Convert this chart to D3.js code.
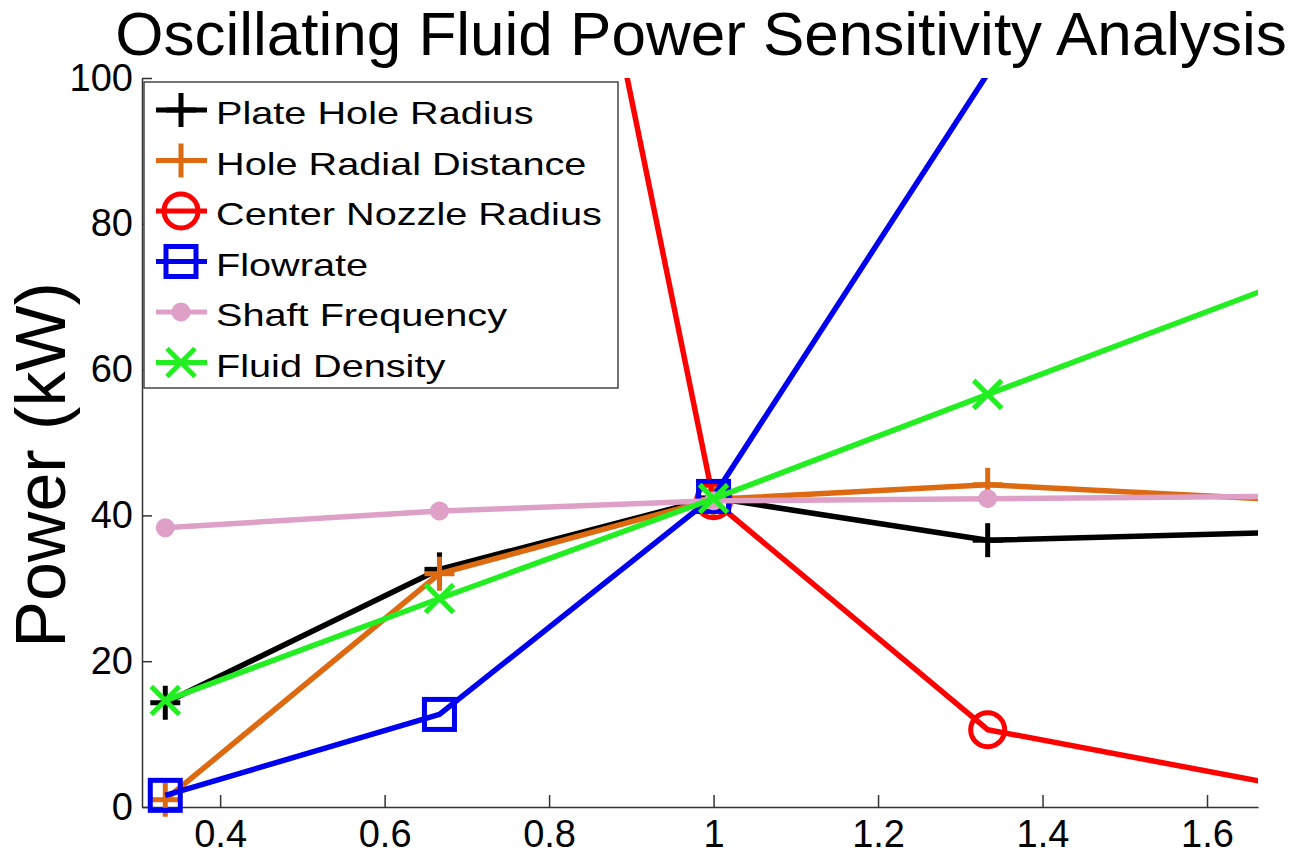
<!DOCTYPE html>
<html>
<head>
<meta charset="utf-8">
<script src="https://cdn.jsdelivr.net/npm/d3@7"></script>
<style>
  body { margin: 0; background: #fff; }
  svg { display: block; font-family: "Liberation Sans", Arial, sans-serif; }
</style>
</head>
<body>
<div id="chart"></div>
<script>
// data
var xValues = [0.3333, 0.6667, 1, 1.3333, 1.6667];
var plateHoleRadius = [14.3, 32.6, 42.4, 36.6, 37.6];
var holeRadialDistance = [1.0, 32.0, 42.2, 44.2, 42.3];
var centerNozzleRadius = [580, 226, 42.0, 10.6, 3.5];
var flowrate = [1.6, 12.7, 42.6, 100.6, 170];
var shaftFrequency = [38.3, 40.6, 42.0, 42.3, 42.6];
var fluidDensity = [14.6, 28.6, 42.3, 56.6, 70.8];
var seriesNames = ["Plate Hole Radius", "Hole Radial Distance", "Center Nozzle Radius",
  "Flowrate", "Shaft Frequency", "Fluid Density"];
var xTicks = [0.4, 0.6, 0.8, 1, 1.2, 1.4, 1.6];
var xTickLabels = ["0.4", "0.6", "0.8", "1", "1.2", "1.4", "1.6"];
var yTicks = [0, 20, 40, 60, 80, 100];

(function() {

  var series = [
    {name: seriesNames[0], values: plateHoleRadius, color: "#000000", marker: "plus"},
    {name: seriesNames[1], values: holeRadialDistance, color: "#dd6a10", marker: "plus"},
    {name: seriesNames[2], values: centerNozzleRadius, color: "#ff0000", marker: "circle"},
    {name: seriesNames[3], values: flowrate, color: "#0000f0", marker: "square"},
    {name: seriesNames[4], values: shaftFrequency, color: "#dfa0c8", marker: "dot"},
    {name: seriesNames[5], values: fluidDensity, color: "#22ee22", marker: "cross"}
  ];

  var width = 1306, height = 857;
  var margin = {left: 142, right: 1258, top: 78, bottom: 807};
  var xDomain = [0.305, 1.662], yDomain = [0, 100];

  var svg = d3.select("#chart").append("svg")
      .attr("width", width)
      .attr("height", height);

  var x = d3.scaleLinear().domain(xDomain).range([margin.left, margin.right]);
  var y = d3.scaleLinear().domain(yDomain).range([margin.bottom, margin.top]);

  svg.append("defs").append("clipPath").attr("id", "plotclip")
    .append("rect")
      .attr("x", margin.left).attr("y", margin.top)
      .attr("width", margin.right - margin.left).attr("height", margin.bottom - margin.top);

  // title
  svg.append("text")
      .attr("x", 701).attr("y", 55)
      .attr("text-anchor", "middle")
      .style("font-size", "62px")
      .text("Oscillating Fluid Power Sensitivity Analysis");

  // y label
  svg.append("text")
      .attr("transform", "translate(65,465) rotate(-90)")
      .attr("text-anchor", "middle")
      .style("font-size", "70px")
      .text("Power (kW)");

  // axes, ticks pointing inward
  var yAxis = svg.append("g")
      .attr("transform", "translate(" + margin.left + ",0)")
      .call(d3.axisLeft(y).tickValues(yTicks).tickSizeInner(-10).tickSizeOuter(0).tickPadding(9));

  var xAxis = svg.append("g")
      .attr("transform", "translate(0," + margin.bottom + ")")
      .call(d3.axisBottom(x).tickValues(xTicks).tickSizeInner(-12).tickSizeOuter(0).tickPadding(13)
        .tickFormat(function(d, i) { return xTickLabels[i]; }));

  [xAxis, yAxis].forEach(function(a) {
    a.selectAll("path, line").attr("stroke", "#333").attr("stroke-width", 1.5);
    a.selectAll("text").attr("fill", "#000").style("font-size", "38px");
    a.attr("font-family", null).attr("font-size", null);
  });

  function drawMarker(g, type, color) {
    if (type == "plus") {
      g.append("line").attr("x1", -15).attr("x2", 15).attr("y1", 0).attr("y2", 0);
      g.append("line").attr("x1", 0).attr("x2", 0).attr("y1", -17).attr("y2", 17);
    } else if (type == "cross") {
      g.append("line").attr("x1", -14).attr("x2", 14).attr("y1", -14).attr("y2", 14);
      g.append("line").attr("x1", -14).attr("x2", 14).attr("y1", 14).attr("y2", -14);
    } else if (type == "circle") {
      g.append("circle").attr("r", 17).attr("fill", "none");
    } else if (type == "square") {
      g.append("rect").attr("x", -15).attr("y", -15).attr("width", 30).attr("height", 30).attr("fill", "none");
    } else if (type == "dot") {
      g.append("circle").attr("r", 7).attr("fill", color);
    }
    g.attr("stroke", color).attr("stroke-width", 5);
  }

  var line = d3.line()
      .x(function(d) { return x(d[0]); })
      .y(function(d) { return y(d[1]); });

  var plot = svg.append("g");

  function inside(p) {
    return p[0] >= xDomain[0] && p[0] <= xDomain[1] && p[1] >= yDomain[0] && p[1] <= yDomain[1];
  }

  series.forEach(function(s) {
    var pts = xValues.map(function(xv, i) { return [xv, s.values[i]]; });
    plot.append("path")
        .datum(pts)
        .attr("clip-path", "url(#plotclip)")
        .attr("fill", "none")
        .attr("stroke", s.color)
        .attr("stroke-width", 5.5)
        .attr("stroke-linejoin", "round")
        .attr("d", line);

    // markers are dropped when the point lies outside the axes limits
    pts.filter(inside).forEach(function(p) {
      var m = plot.append("g").attr("transform", "translate(" + x(p[0]) + "," + y(p[1]) + ")");
      drawMarker(m, s.marker, s.color);
    });
  });

  // legend
  var legend = svg.append("g");
  legend.append("rect")
      .attr("x", 144).attr("y", 82)
      .attr("width", 474).attr("height", 306)
      .attr("fill", "#fff")
      .attr("stroke", "#444")
      .attr("stroke-width", 1.5);

  series.forEach(function(s, i) {
    var cy = 110 + i * 50.5;
    var row = legend.append("g");
    row.append("line")
        .attr("x1", 156).attr("x2", 207)
        .attr("y1", cy).attr("y2", cy)
        .attr("stroke", s.color).attr("stroke-width", 5);
    drawMarker(row.append("g").attr("transform", "translate(181," + cy + ")"), s.marker, s.color);
    row.append("text")
        .attr("transform", "translate(216," + (cy + 14) + ") scale(1.24,1)")
        .style("font-size", "32px")
        .text(s.name);
  });

})();
</script>
</body>
</html>
